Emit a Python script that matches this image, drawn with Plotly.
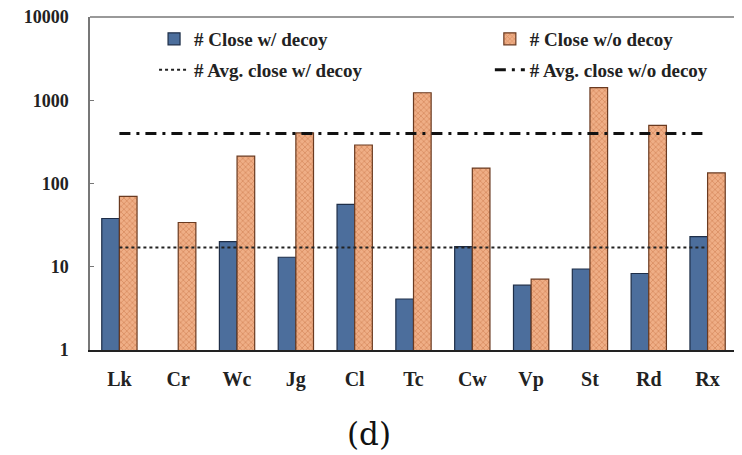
import plotly.graph_objects as go

categories = ["Lk", "Cr", "Wc", "Jg", "Cl", "Tc", "Cw", "Vp", "St", "Rd", "Rx"]
close_w_decoy = [38, None, 20, 13, 56, 4.1, 17.4, 6.0, 9.4, 8.3, 23]
close_wo_decoy = [70, 34, 213, 405, 290, 1230, 153, 7.1, 1420, 500, 134]
avg_w_decoy = 17
avg_wo_decoy = 400
y_ticks = [1, 10, 100, 1000, 10000]

FONT = "Liberation Serif"

fig = go.Figure()
fig.add_trace(go.Bar(
    x=categories, y=close_w_decoy, name="# Close w/ decoy",
    marker=dict(color="#4C6E9C", line=dict(color="#1E2E48", width=1.2)),
    legend="legend",
))
fig.add_trace(go.Bar(
    x=categories, y=close_wo_decoy, name="# Close w/o decoy",
    marker=dict(color="#EFAE86", line=dict(color="#6A3A20", width=1.2),
                pattern=dict(shape="x", size=4, solidity=0.35, fgcolor="#C06A3A")),
    legend="legend2",
))
fig.add_trace(go.Scatter(
    x=categories, y=[avg_w_decoy] * len(categories), mode="lines",
    name="# Avg. close w/ decoy",
    line=dict(color="#222222", width=2, dash="dot"),
    legend="legend3",
))
fig.add_trace(go.Scatter(
    x=categories, y=[avg_wo_decoy] * len(categories), mode="lines",
    name="# Avg. close w/o decoy",
    line=dict(color="#111111", width=3, dash="11px,6px,3px,6px"),
    legend="legend4",
))


def leg(x, y):
    return dict(
        x=x, y=y, bgcolor="rgba(0,0,0,0)",
        font=dict(family=FONT, size=19, color="#222222", weight="bold"),
        orientation="v", xanchor="left", yanchor="middle", itemwidth=30,
    )


fig.update_layout(
    width=734, height=447, showlegend=True,
    margin=dict(l=82, r=5, t=9, b=105, autoexpand=False),
    plot_bgcolor="white", paper_bgcolor="white",
    barmode="group", bargap=0.4, bargroupgap=0.0,
    font=dict(family=FONT, color="#111111"),
    legend=leg(0.099, 0.934),
    legend2=leg(0.618, 0.934),
    legend3=leg(0.099, 0.841),
    legend4=leg(0.618, 0.841),
    xaxis=dict(
        range=[-0.5, 10.5], showline=True, linecolor="#222222", linewidth=2,
        mirror=False, ticks="", automargin=False,
        tickfont=dict(family=FONT, size=20, color="#222222", weight="bold"),
        ticklabelstandoff=10,
    ),
    yaxis=dict(
        type="log", range=[0, 4], tickvals=y_ticks,
        ticktext=[str(v) for v in y_ticks], automargin=False,
        ticklabeloverflow="allow",
        showline=True, linecolor="#777777", linewidth=1.5, mirror=True,
        ticks="inside", ticklen=4, tickcolor="#777777", showgrid=False,
        tickfont=dict(family=FONT, size=18, color="#222222", weight="bold"),
        ticklabelstandoff=16,
    ),
    annotations=[dict(
        text="(d)", xref="paper", yref="paper", x=0.431, y=-0.252,
        xanchor="center", yanchor="middle", showarrow=False,
        font=dict(family="DejaVu Serif", size=31, color="#111111"),
    )],
)
fig.add_shape(type="line", xref="paper", yref="paper", x0=1, x1=1, y0=0, y1=1,
              line=dict(color="#777777", width=1.5))
fig.add_shape(type="line", xref="paper", yref="paper", x0=0, x1=1, y0=1, y1=1,
              line=dict(color="#777777", width=1.5))

fig.write_html("out.html")
